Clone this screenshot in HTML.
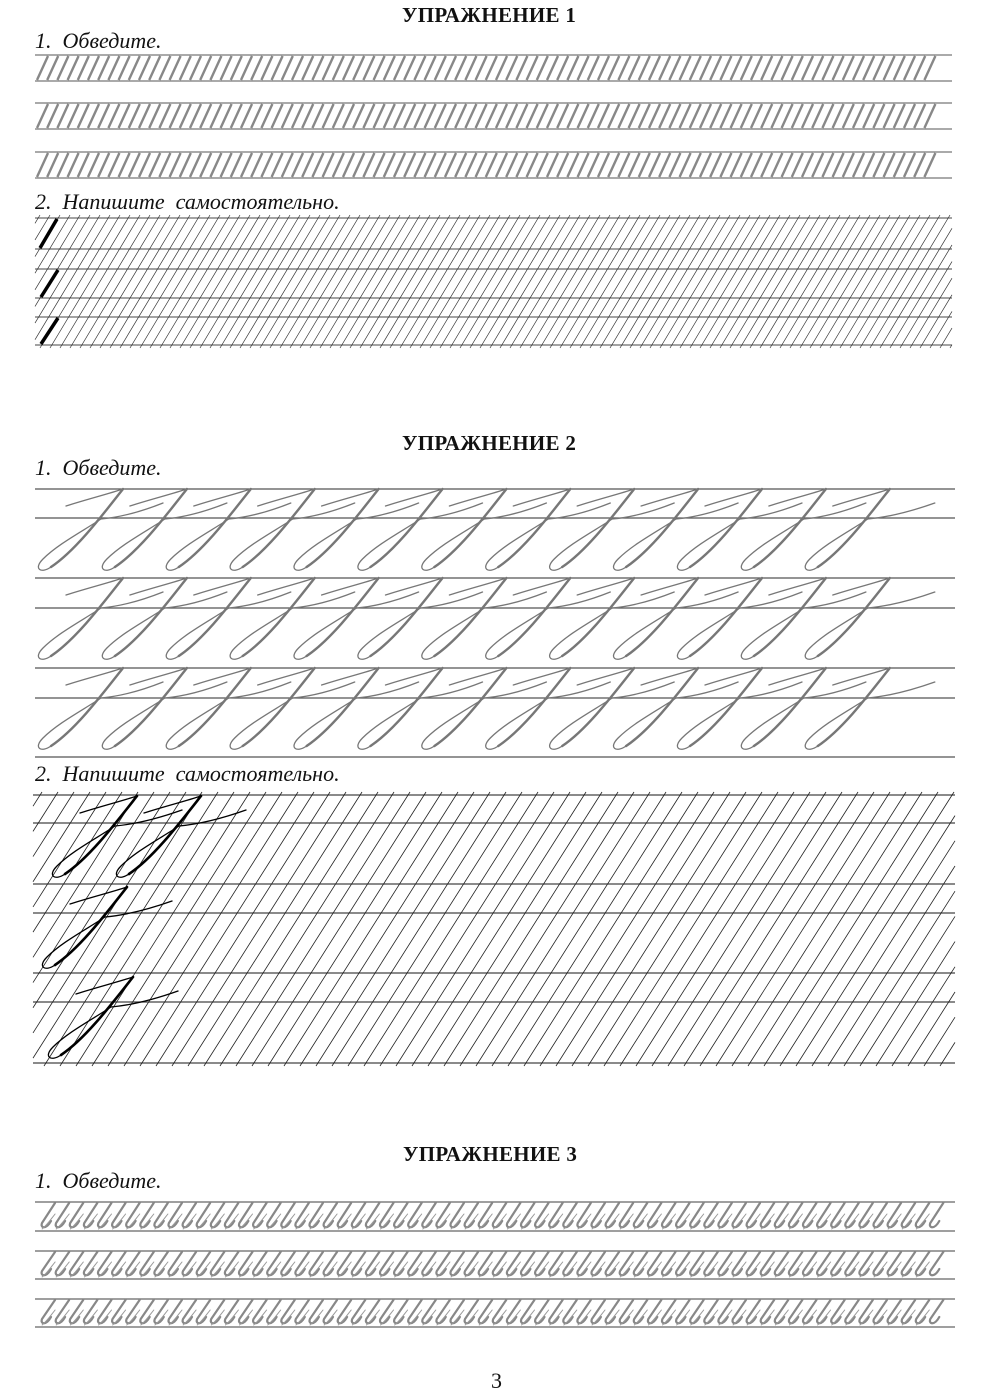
<!DOCTYPE html>
<html><head><meta charset="utf-8"><style>
html,body{margin:0;padding:0;background:#fff;}
body{width:1000px;height:1384px;position:relative;overflow:hidden;}
.t{position:absolute;font-family:"Liberation Serif",serif;font-weight:bold;font-size:21px;color:#111;letter-spacing:0.3px;}
.l{position:absolute;font-family:"Liberation Serif",serif;font-style:italic;font-size:22px;color:#111;}
svg{position:absolute;left:0;top:0;}
</style></head><body>
<div class="t" style="left:402px;top:3px;">УПРАЖНЕНИЕ 1</div>
<div class="l" style="left:35px;top:28px;">1.&nbsp; Обведите.</div>
<div class="l" style="left:35px;top:189px;">2.&nbsp; Напишите&nbsp; самостоятельно.</div>
<div class="t" style="left:402px;top:431px;">УПРАЖНЕНИЕ 2</div>
<div class="l" style="left:35px;top:455px;">1.&nbsp; Обведите.</div>
<div class="l" style="left:35px;top:761px;">2.&nbsp; Напишите&nbsp; самостоятельно.</div>
<div class="t" style="left:403px;top:1142px;">УПРАЖНЕНИЕ 3</div>
<div class="l" style="left:35px;top:1168px;">1.&nbsp; Обведите.</div>
<div class="l" style="left:491px;top:1368px;font-style:normal;">3</div>
<svg id="s" width="1000" height="1384" xmlns="http://www.w3.org/2000/svg"></svg>
<script>
var s=document.getElementById('s'),o='';
function L(x1,y1,x2,y2,c,w){o+='<line x1="'+x1+'" y1="'+y1+'" x2="'+x2+'" y2="'+y2+'" stroke="'+c+'" stroke-width="'+w+'"/>';}
function P(d,c,w){o+='<path d="'+d+'" fill="none" stroke="'+c+'" stroke-width="'+w+'" stroke-linecap="round"/>';}
// Ex1 part1
[[55,81],[103,129],[152,178]].forEach(function(r){
 L(35,r[0],952,r[0],'#777',1.2);L(35,r[1],952,r[1],'#777',1.2);
 for(var x=48;x<=945;x+=10.2){L(x,r[0]+1,x-11,r[1]-1,'#888',2.4);}
});
// Ex1 part2
[218,249,269,298,317,345].forEach(function(y){L(35,y,952,y,'#444',1);});
for(var x=-40;x<=1000;x+=10){var x1=x+40,y1=215,x2=x-40,y2=348;
 if(x2<35){y2=215+(x1-35)/80*133;x2=35;} if(x1>952){y1=215+(x1-952)/80*133;x1=952;}
 if(y2>y1)L(x1,y1,x2,y2,'#333',0.7);}
[[218,249],[269,298],[317,345]].forEach(function(r,i){var xo=[57,58,58][i];L(xo,r[0]+1,xo-17,r[1]-1,'#000',3.5);});
// Ex2 part1
[489,518,578,608,668,698,757].forEach(function(y){L(35,y,955,y,'#555',1.3);});
function letter(ox,T,c,w1,w2,f){
 P('M'+(ox-57)+','+(T+17)+' C'+(ox-35)+','+(T+10)+' '+(ox-15)+','+(T+5)+' '+ox+','+T,c,w2);
 P('M'+ox+','+T+' C'+(ox-22)+','+(T+28)+' '+(ox-48)+','+(T+62)+' '+(ox-72)+','+(T+78),c,w1);
 P('M'+(ox-72)+','+(T+78)+' C'+(ox-82)+','+(T+85)+' '+(ox-90)+','+(T+80)+' '+(ox-80)+','+(T+70)+' C'+(ox-65)+','+(T+55)+' '+(ox-40)+','+(T+42)+' '+(ox-22)+','+(T+30)+' C'+(ox)+','+(T+28)+' '+(ox+f*0.5)+','+(T+22)+' '+(ox+f)+','+(T+14),c,w2);
}
[489,578,668].forEach(function(T){for(var k=0;k<13;k++)letter(123+k*63.9,T,'#777',2.4,1.3,k==12?45:40);});
// Ex2 part2
[795,823,884,913,973,1002,1063].forEach(function(y){L(33,y,955,y,'#444',1.2);});
for(var x=-180;x<=1200;x+=16){var x1=x+174,y1=792,x2=x,y2=1066,k=174/274;
 if(x2<33){y2=1066-(33-x2)/k;x2=33;} if(x1>955){y1=792+(x1-955)/k;x1=955;}
 if(y2>y1)L(x1,y1,x2,y2,'#222',0.8);}
letter(137,796,'#000',2.6,1.3,45);letter(201,796,'#000',2.6,1.3,45);
letter(127,887,'#000',2.6,1.3,45);letter(133,977,'#000',2.6,1.3,45);
// Ex3
[[1202,1231],[1251,1279],[1299,1327]].forEach(function(r){
 L(35,r[0],955,r[0],'#666',1.3);L(35,r[1],955,r[1],'#666',1.3);
 for(var x=55;x<=945;x+=14.1){var b=r[1]-2;
  P('M'+x+','+(r[0]+1)+' L'+(x-13)+','+(b-6)+' C'+(x-15)+','+(b-1)+' '+(x-9)+','+(b+1)+' '+(x-4)+','+(b-8),'#888',2.2);
  if(x-27>=36)P('M'+(x-27)+','+(b)+' C'+(x-22)+','+(b-4)+' '+(x-18)+','+(b-10)+' '+(x-14)+','+(b-15),'#999',1);
 }
});
s.innerHTML=o;
</script>
</body></html>
